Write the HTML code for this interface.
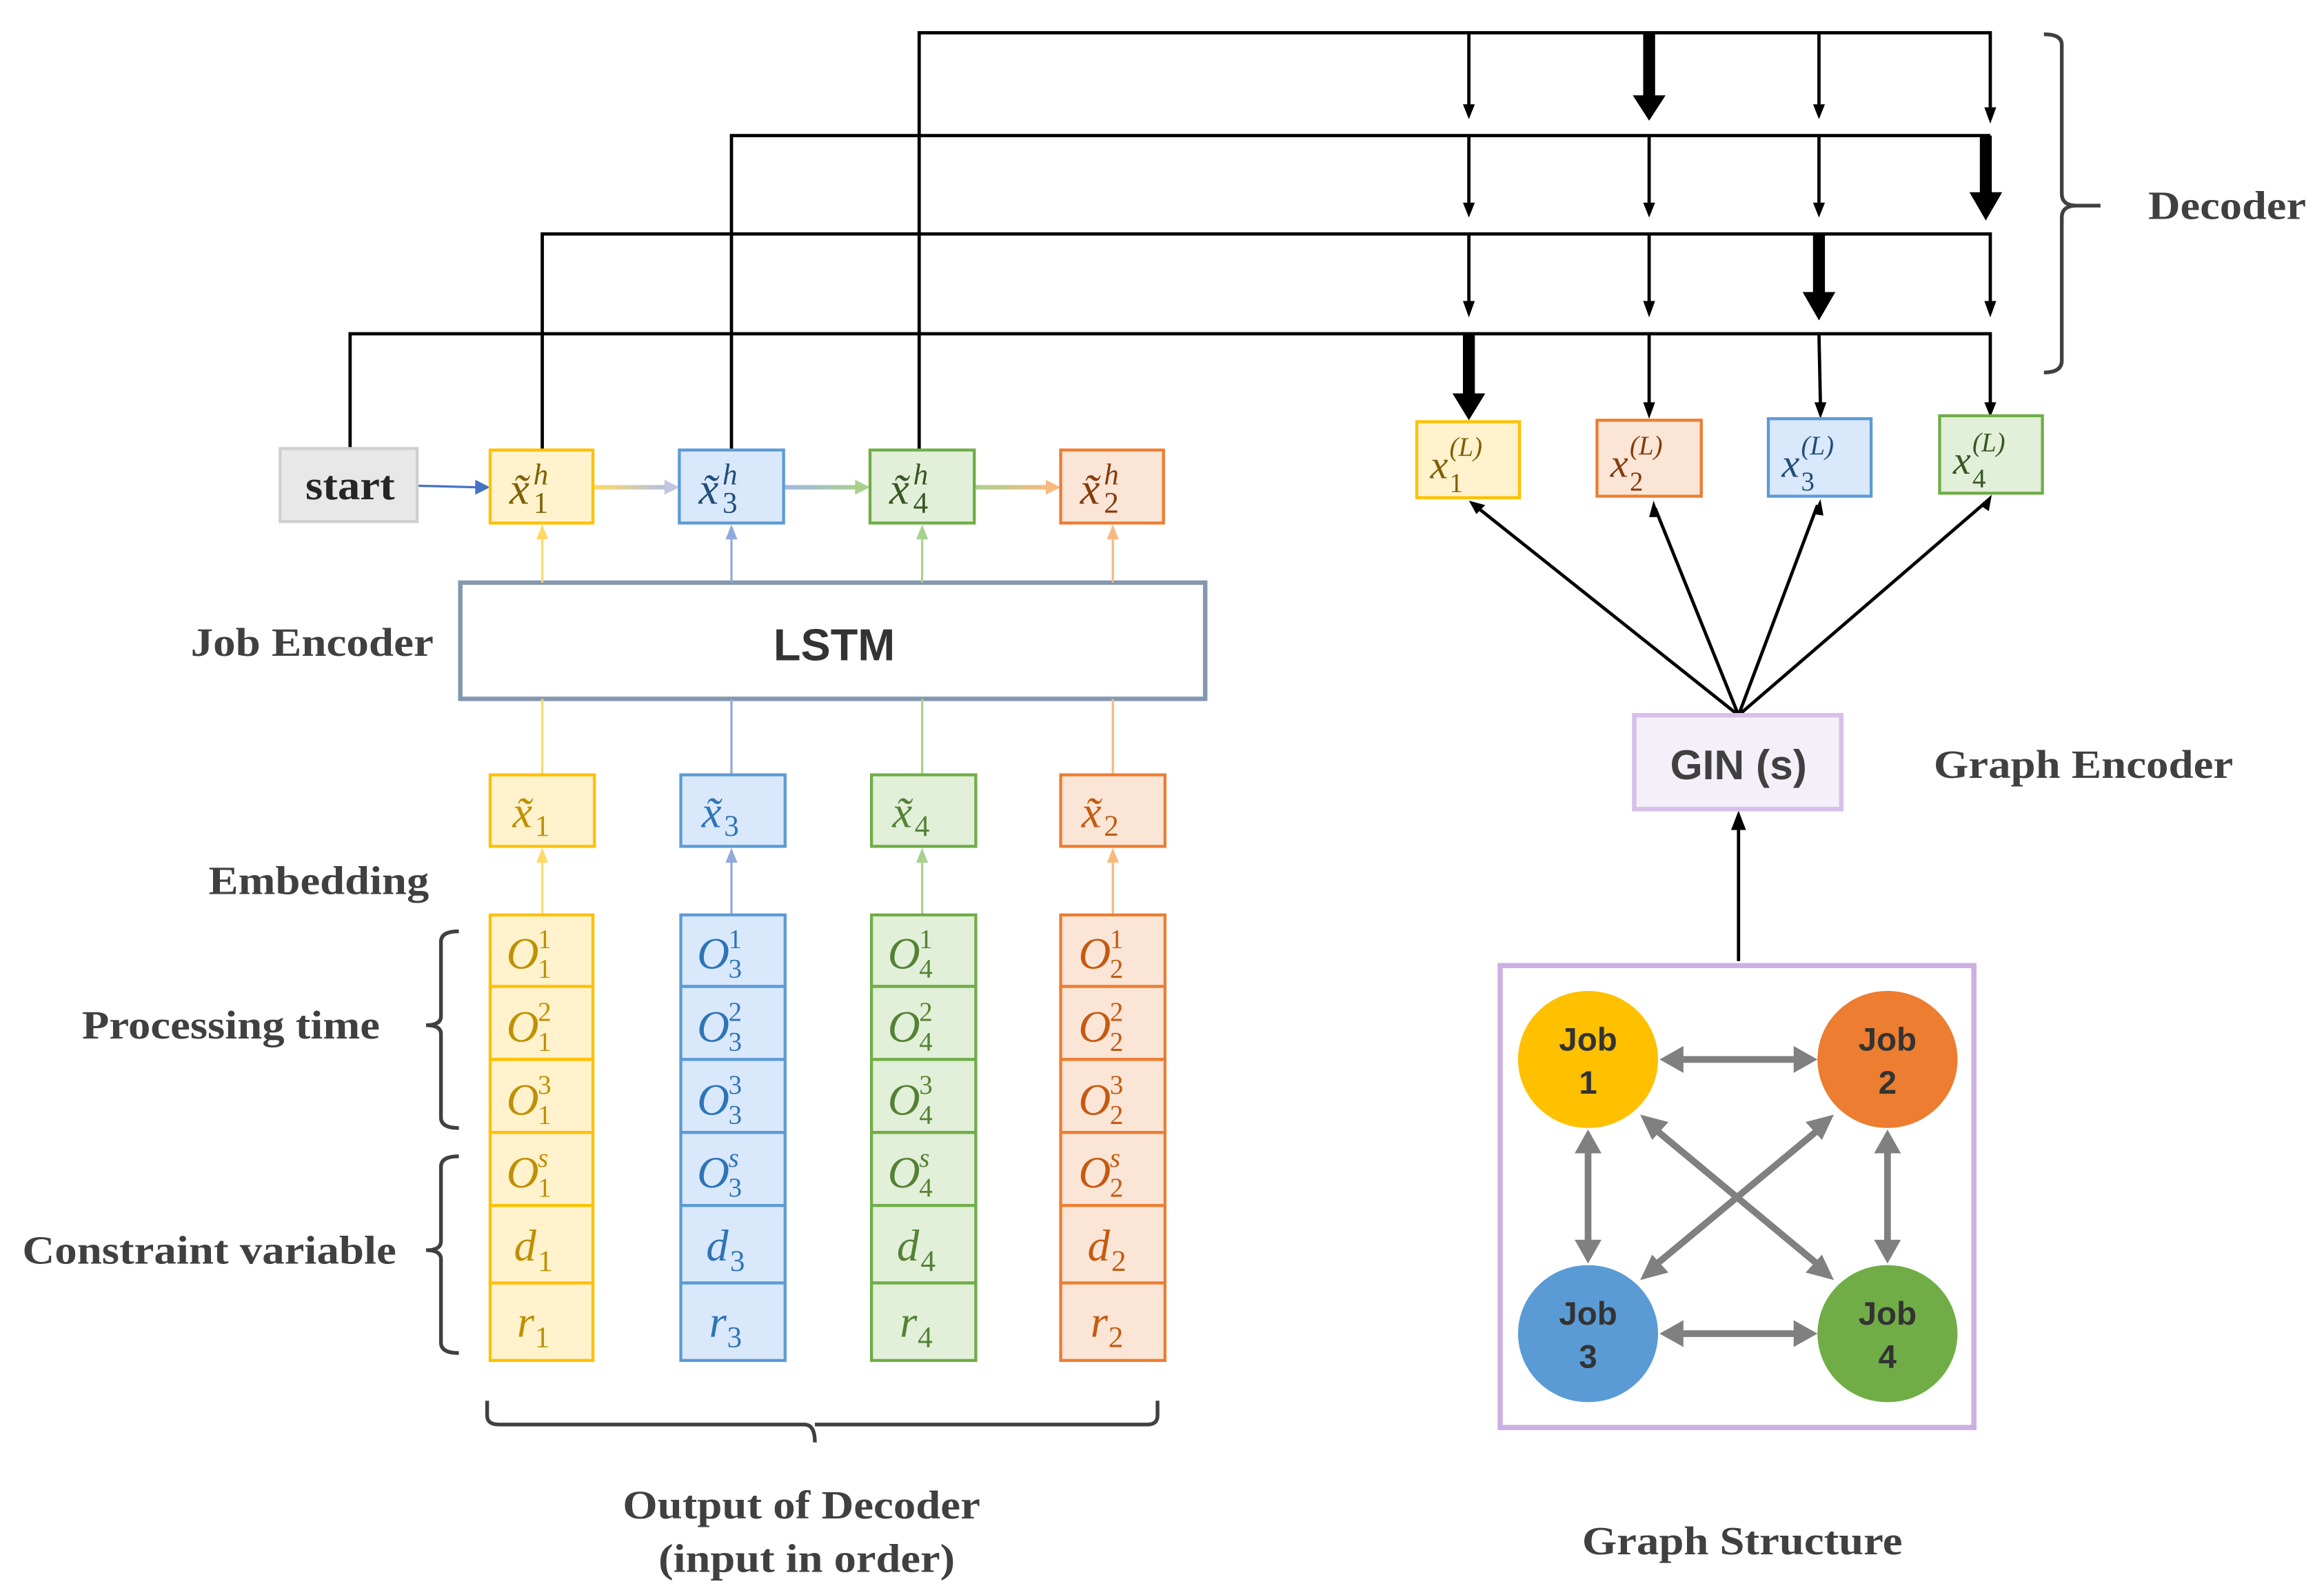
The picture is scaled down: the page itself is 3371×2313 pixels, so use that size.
<!DOCTYPE html>
<html><head><meta charset="utf-8"><style>html,body{margin:0;padding:0;background:#fff}svg{display:block}.n{font-style:normal}</style></head><body>
<svg xmlns="http://www.w3.org/2000/svg" width="3371" height="2313" viewBox="0 0 1560 1070.4">
<defs>
<linearGradient id="g1" x1="0" x2="1"><stop offset="0" stop-color="#ffd966"/><stop offset="1" stop-color="#b4c0e0"/></linearGradient>
<linearGradient id="g2" x1="0" x2="1"><stop offset="0" stop-color="#9fb8e6"/><stop offset="1" stop-color="#a9d18e"/></linearGradient>
<linearGradient id="g3" x1="0" x2="1"><stop offset="0" stop-color="#a9d18e"/><stop offset="1" stop-color="#f8b97f"/></linearGradient>
</defs>
<rect width="1560" height="1070.4" fill="#fff"/>
<g stroke="#000" stroke-width="2.2" fill="none">
<polyline points="617,302 617,22 1336,22 1336,72"/>
<polyline points="491,302 491,91 1336,91"/>
<polyline points="364,302 364,157 1336,157 1336,204"/>
<polyline points="235,301 235,224 1336,224 1336,272"/>
<line x1="986" y1="22" x2="986" y2="72"/><line x1="1221" y1="22" x2="1221" y2="72"/>
<line x1="986" y1="91" x2="986" y2="138"/><line x1="1107" y1="91" x2="1107" y2="138"/><line x1="1221" y1="91" x2="1221" y2="138"/>
<line x1="986" y1="157" x2="986" y2="204"/><line x1="1107" y1="157" x2="1107" y2="204"/>
<line x1="1107" y1="224" x2="1107" y2="272"/><line x1="1221" y1="224" x2="1222" y2="272"/>
</g>
<g fill="#000">
<polygon points="982,70 990,70 986,80"/><polygon points="1217,70 1225,70 1221,80"/><polygon points="1332,72 1340,72 1336,83"/>
<polygon points="982,136 990,136 986,146"/><polygon points="1103,136 1111,136 1107,146"/><polygon points="1217,136 1225,136 1221,146"/>
<polygon points="982,202 990,202 986,213"/><polygon points="1103,202 1111,202 1107,213"/><polygon points="1332,202 1340,202 1336,213"/>
<polygon points="1103,270 1111,270 1107,281"/><polygon points="1218,270 1226,270 1222,281"/><polygon points="1332,270 1340,270 1336,280"/>
<rect x="1103" y="22" width="8" height="44"/><polygon points="1096,64 1118,64 1107,81"/>
<rect x="1329" y="91" width="8" height="40"/><polygon points="1322,129 1344,129 1333,148"/>
<rect x="1217" y="157" width="8" height="40"/><polygon points="1210,196 1232,196 1221,215"/>
<rect x="982" y="224" width="8" height="42"/><polygon points="975,264 997,264 986,282"/>
</g>
<path d="M1372,23 Q1384,23 1384,30 L1384,130 Q1384,138 1394,138 L1410,138 M1394,138 Q1384,138 1384,146 L1384,242 Q1384,250 1372,250" stroke="#404040" stroke-width="2.5" fill="none"/>
<g font-family="Liberation Serif,serif" font-weight="bold" fill="#404040" font-size="27">
<text x="1442" y="147" textLength="106" lengthAdjust="spacingAndGlyphs">Decoder</text>
<text x="128" y="440" textLength="163" lengthAdjust="spacingAndGlyphs">Job Encoder</text>
<text x="140" y="600" textLength="148" lengthAdjust="spacingAndGlyphs">Embedding</text>
<text x="55" y="697" textLength="200" lengthAdjust="spacingAndGlyphs">Processing time</text>
<text x="15" y="848" textLength="251" lengthAdjust="spacingAndGlyphs">Constraint variable</text>
<text x="1298" y="522" textLength="201" lengthAdjust="spacingAndGlyphs">Graph Encoder</text>
<text x="418" y="1019" textLength="240" lengthAdjust="spacingAndGlyphs">Output of Decoder</text>
<text x="442" y="1055" textLength="199" lengthAdjust="spacingAndGlyphs">(input in order)</text>
<text x="1062" y="1043" textLength="215" lengthAdjust="spacingAndGlyphs">Graph Structure</text>
</g>
<g stroke="#404040" stroke-width="2.5" fill="none">
<path d="M308,625 Q296,625 296,632 L296,682 Q296,688 286,688 M296,694 Q296,688 286,688 M296,694 L296,750 Q296,757 308,757"/>
<path d="M308,776 Q296,776 296,783 L296,833 Q296,839 286,839 M296,845 Q296,839 286,839 M296,845 L296,901 Q296,908 308,908"/>
<path d="M327,940 L327,950 Q327,956 335,956 L540,956 Q547,956 547,968 M547,956 Q547,956 555,956 L770,956 Q777,956 777,950 L777,940"/>
</g>
<rect x="188" y="301" width="92" height="49" fill="#e8e8e8" stroke="#cfcfcf" stroke-width="2"/>
<text x="205" y="335" font-family="Liberation Serif,serif" font-weight="bold" font-size="28" fill="#262626" textLength="60" lengthAdjust="spacingAndGlyphs">start</text>
<line x1="281" y1="326" x2="320" y2="327" stroke="#4472c4" stroke-width="1.5"/><polygon points="319,322 329,327 319,332" fill="#4472c4"/>
<rect x="399" y="325.5" width="48" height="3" fill="url(#g1)"/><polygon points="446,322 456,327 446,332" fill="#c0c6e0"/>
<rect x="527" y="325.5" width="48" height="3" fill="url(#g2)"/><polygon points="574,322 584,327 574,332" fill="#a9d18e"/>
<rect x="655" y="325.5" width="48" height="3" fill="url(#g3)"/><polygon points="702,322 712,327 702,332" fill="#f8b97f"/>
<rect x="309" y="391" width="500" height="78" fill="#fff" stroke="#8497b0" stroke-width="3"/>
<text x="560" y="443" text-anchor="middle" font-family="Liberation Sans,sans-serif" font-weight="bold" font-size="30" fill="#333">LSTM</text>
<g font-family="Liberation Serif,serif" font-style="italic">
<g>
<line x1="364" y1="391" x2="364" y2="360" stroke="#ffd966" stroke-width="1.5"/><polygon points="360,362 368,362 364,352" fill="#ffd966"/>
<line x1="364" y1="469" x2="364" y2="520" stroke="#ffd966" stroke-width="1.5"/>
<line x1="364" y1="614" x2="364" y2="577" stroke="#ffd966" stroke-width="1.5"/><polygon points="360,579 368,579 364,569" fill="#ffd966"/>
<rect x="329" y="302" width="69" height="49" fill="#fff2cc" stroke="#ffc000" stroke-width="2"/>
<rect x="329" y="520" width="70" height="48" fill="#fff2cc" stroke="#ffc000" stroke-width="2"/>
<g fill="#fff2cc" stroke="#ffc000" stroke-width="2"><rect x="329" y="614" width="69" height="48"/><rect x="329" y="662" width="69" height="49"/><rect x="329" y="711" width="69" height="49"/><rect x="329" y="760" width="69" height="49"/><rect x="329" y="809" width="69" height="52"/><rect x="329" y="861" width="69" height="52"/></g>
</g>
<g>
<line x1="491" y1="391" x2="491" y2="360" stroke="#8faadc" stroke-width="1.5"/><polygon points="487,362 495,362 491,352" fill="#8faadc"/>
<line x1="491" y1="469" x2="491" y2="520" stroke="#8faadc" stroke-width="1.5"/>
<line x1="491" y1="614" x2="491" y2="577" stroke="#8faadc" stroke-width="1.5"/><polygon points="487,579 495,579 491,569" fill="#8faadc"/>
<rect x="456" y="302" width="70" height="49" fill="#dae8fc" stroke="#5b9bd5" stroke-width="2"/>
<rect x="457" y="520" width="70" height="48" fill="#dae8fc" stroke="#5b9bd5" stroke-width="2"/>
<g fill="#dae8fc" stroke="#5b9bd5" stroke-width="2"><rect x="457" y="614" width="70" height="48"/><rect x="457" y="662" width="70" height="49"/><rect x="457" y="711" width="70" height="49"/><rect x="457" y="760" width="70" height="49"/><rect x="457" y="809" width="70" height="52"/><rect x="457" y="861" width="70" height="52"/></g>
</g>
<g>
<line x1="619" y1="391" x2="619" y2="360" stroke="#a9d18e" stroke-width="1.5"/><polygon points="615,362 623,362 619,352" fill="#a9d18e"/>
<line x1="619" y1="469" x2="619" y2="520" stroke="#a9d18e" stroke-width="1.5"/>
<line x1="619" y1="614" x2="619" y2="577" stroke="#a9d18e" stroke-width="1.5"/><polygon points="615,579 623,579 619,569" fill="#a9d18e"/>
<rect x="584" y="302" width="70" height="49" fill="#e2efd9" stroke="#70ad47" stroke-width="2"/>
<rect x="585" y="520" width="70" height="48" fill="#e2efd9" stroke="#70ad47" stroke-width="2"/>
<g fill="#e2efd9" stroke="#70ad47" stroke-width="2"><rect x="585" y="614" width="70" height="48"/><rect x="585" y="662" width="70" height="49"/><rect x="585" y="711" width="70" height="49"/><rect x="585" y="760" width="70" height="49"/><rect x="585" y="809" width="70" height="52"/><rect x="585" y="861" width="70" height="52"/></g>
</g>
<g>
<line x1="747" y1="391" x2="747" y2="360" stroke="#f8b97f" stroke-width="1.5"/><polygon points="743,362 751,362 747,352" fill="#f8b97f"/>
<line x1="747" y1="469" x2="747" y2="520" stroke="#f8b97f" stroke-width="1.5"/>
<line x1="747" y1="614" x2="747" y2="577" stroke="#f8b97f" stroke-width="1.5"/><polygon points="743,579 751,579 747,569" fill="#f8b97f"/>
<rect x="712" y="302" width="69" height="49" fill="#fbe5d6" stroke="#ed7d31" stroke-width="2"/>
<rect x="712" y="520" width="70" height="48" fill="#fbe5d6" stroke="#ed7d31" stroke-width="2"/>
<g fill="#fbe5d6" stroke="#ed7d31" stroke-width="2"><rect x="712" y="614" width="70" height="48"/><rect x="712" y="662" width="70" height="49"/><rect x="712" y="711" width="70" height="49"/><rect x="712" y="760" width="70" height="49"/><rect x="712" y="809" width="70" height="52"/><rect x="712" y="861" width="70" height="52"/></g>
</g>
<g font-size="30">
<g fill="#7f6000"><text x="342" y="338">x̃</text><text x="358" y="325" font-size="20">h</text><text class="n" x="358" y="344" font-size="20">1</text></g>
<g fill="#1f4e79"><text x="469" y="338">x̃</text><text x="485" y="325" font-size="20">h</text><text class="n" x="485" y="344" font-size="20">3</text></g>
<g fill="#385723"><text x="597" y="338">x̃</text><text x="613" y="325" font-size="20">h</text><text class="n" x="613" y="344" font-size="20">4</text></g>
<g fill="#843c0c"><text x="725" y="338">x̃</text><text x="741" y="325" font-size="20">h</text><text class="n" x="741" y="344" font-size="20">2</text></g>
</g>
<g font-size="30">
<g fill="#bf9000"><text x="344" y="555">x̃</text><text class="n" x="359" y="561" font-size="20">1</text></g>
<g fill="#2e75b6"><text x="471" y="555">x̃</text><text class="n" x="486" y="561" font-size="20">3</text></g>
<g fill="#548235"><text x="599" y="555">x̃</text><text class="n" x="614" y="561" font-size="20">4</text></g>
<g fill="#c55a11"><text x="726" y="555">x̃</text><text class="n" x="741" y="561" font-size="20">2</text></g>
</g>
<g font-size="30" fill="#bf9000">
<text x="340" y="650">O</text><text class="n" x="361" y="636" font-size="18">1</text><text class="n" x="361" y="656" font-size="18">1</text>
<text x="340" y="699">O</text><text class="n" x="361" y="685" font-size="18">2</text><text class="n" x="361" y="705" font-size="18">1</text>
<text x="340" y="748">O</text><text class="n" x="361" y="734" font-size="18">3</text><text class="n" x="361" y="754" font-size="18">1</text>
<text x="340" y="797">O</text><text x="361" y="783" font-size="18">s</text><text class="n" x="361" y="803" font-size="18">1</text>
<text x="345" y="846">d</text><text class="n" x="361" y="853" font-size="20">1</text>
<text x="347" y="897">r</text><text class="n" x="359" y="904" font-size="20">1</text>
</g>
<g font-size="30" fill="#2e75b6">
<text x="468" y="650">O</text><text class="n" x="489" y="636" font-size="18">1</text><text class="n" x="489" y="656" font-size="18">3</text>
<text x="468" y="699">O</text><text class="n" x="489" y="685" font-size="18">2</text><text class="n" x="489" y="705" font-size="18">3</text>
<text x="468" y="748">O</text><text class="n" x="489" y="734" font-size="18">3</text><text class="n" x="489" y="754" font-size="18">3</text>
<text x="468" y="797">O</text><text x="489" y="783" font-size="18">s</text><text class="n" x="489" y="803" font-size="18">3</text>
<text x="474" y="846">d</text><text class="n" x="490" y="853" font-size="20">3</text>
<text x="476" y="897">r</text><text class="n" x="488" y="904" font-size="20">3</text>
</g>
<g font-size="30" fill="#548235">
<text x="596" y="650">O</text><text class="n" x="617" y="636" font-size="18">1</text><text class="n" x="617" y="656" font-size="18">4</text>
<text x="596" y="699">O</text><text class="n" x="617" y="685" font-size="18">2</text><text class="n" x="617" y="705" font-size="18">4</text>
<text x="596" y="748">O</text><text class="n" x="617" y="734" font-size="18">3</text><text class="n" x="617" y="754" font-size="18">4</text>
<text x="596" y="797">O</text><text x="617" y="783" font-size="18">s</text><text class="n" x="617" y="803" font-size="18">4</text>
<text x="602" y="846">d</text><text class="n" x="618" y="853" font-size="20">4</text>
<text x="604" y="897">r</text><text class="n" x="616" y="904" font-size="20">4</text>
</g>
<g font-size="30" fill="#c55a11">
<text x="724" y="650">O</text><text class="n" x="745" y="636" font-size="18">1</text><text class="n" x="745" y="656" font-size="18">2</text>
<text x="724" y="699">O</text><text class="n" x="745" y="685" font-size="18">2</text><text class="n" x="745" y="705" font-size="18">2</text>
<text x="724" y="748">O</text><text class="n" x="745" y="734" font-size="18">3</text><text class="n" x="745" y="754" font-size="18">2</text>
<text x="724" y="797">O</text><text x="745" y="783" font-size="18">s</text><text class="n" x="745" y="803" font-size="18">2</text>
<text x="730" y="846">d</text><text class="n" x="746" y="853" font-size="20">2</text>
<text x="732" y="897">r</text><text class="n" x="744" y="904" font-size="20">2</text>
</g>
<rect x="951" y="283" width="69" height="51" fill="#fff2cc" stroke="#ffc000" stroke-width="2"/>
<rect x="1072" y="282" width="70" height="51" fill="#fbe5d6" stroke="#ed7d31" stroke-width="2"/>
<rect x="1187" y="281" width="69" height="52" fill="#dae8fc" stroke="#5b9bd5" stroke-width="2"/>
<rect x="1302" y="279" width="69" height="52" fill="#e2efd9" stroke="#70ad47" stroke-width="2"/>
<g font-size="27">
<g fill="#7f6000"><text x="960" y="321">x</text><text x="973" y="306" font-size="18">(L)</text><text class="n" x="973" y="330" font-size="18">1</text></g>
<g fill="#843c0c"><text x="1081" y="320">x</text><text x="1094" y="305" font-size="18">(L)</text><text class="n" x="1094" y="329" font-size="18">2</text></g>
<g fill="#1f4e79"><text x="1196" y="320">x</text><text x="1209" y="305" font-size="18">(L)</text><text class="n" x="1209" y="329" font-size="18">3</text></g>
<g fill="#385723"><text x="1311" y="318">x</text><text x="1324" y="303" font-size="18">(L)</text><text class="n" x="1324" y="327" font-size="18">4</text></g>
</g>
</g>
<g stroke="#000" stroke-width="2.2">
<line x1="1167" y1="480" x2="991" y2="340"/><line x1="1167" y1="480" x2="1111" y2="341"/><line x1="1167" y1="480" x2="1220" y2="339"/><line x1="1167" y1="480" x2="1333" y2="337"/>
<line x1="1167" y1="645" x2="1167" y2="555"/>
</g>
<g fill="#000">
<polygon points="986,336 997,339 991,345"/><polygon points="1110,336 1114,347 1107,347"/><polygon points="1222,335 1224,346 1217,345"/><polygon points="1337,332 1335,343 1329,339"/>
<polygon points="1162,557 1172,557 1167,544"/>
</g>
<rect x="1097" y="480" width="139" height="63" fill="#f4eff8" stroke="#d7bfea" stroke-width="3"/>
<text x="1167" y="523" text-anchor="middle" font-family="Liberation Sans,sans-serif" font-weight="bold" font-size="28" fill="#404040">GIN (s)</text>
<rect x="1007" y="648" width="318" height="310" fill="#fff" stroke="#cdb0e3" stroke-width="3.5"/>
<g stroke="#808080" stroke-width="4.5" fill="none">
<line x1="1126" y1="711" x2="1208" y2="711"/><line x1="1126" y1="895" x2="1208" y2="895"/>
<line x1="1066" y1="770" x2="1066" y2="836"/><line x1="1267" y1="770" x2="1267" y2="836"/>
<line x1="1110" y1="757" x2="1222" y2="850"/><line x1="1222" y1="757" x2="1110" y2="850"/>
</g>
<g fill="#808080">
<polygon points="1114,711 1130,702 1130,720"/><polygon points="1220,711 1204,702 1204,720"/>
<polygon points="1114,895 1130,886 1130,904"/><polygon points="1220,895 1204,886 1204,904"/>
<polygon points="1066,758 1057,774 1075,774"/><polygon points="1066,848 1057,832 1075,832"/>
<polygon points="1267,758 1258,774 1276,774"/><polygon points="1267,848 1258,832 1276,832"/>
<polygon points="1101,748 1120,753 1109,765"/><polygon points="1231,859 1212,854 1223,842"/>
<polygon points="1231,748 1212,753 1223,765"/><polygon points="1101,859 1120,854 1109,842"/>
</g>
<ellipse cx="1066" cy="711" rx="47" ry="46" fill="#ffc000"/>
<ellipse cx="1267" cy="711" rx="47" ry="46" fill="#ed7d31"/>
<ellipse cx="1066" cy="895" rx="47" ry="46" fill="#5b9bd5"/>
<ellipse cx="1267" cy="895" rx="47" ry="46" fill="#70ad47"/>
<g font-family="Liberation Sans,sans-serif" font-weight="bold" font-size="22" fill="#333" text-anchor="middle">
<text x="1066" y="705">Job</text><text x="1066" y="734">1</text>
<text x="1267" y="705">Job</text><text x="1267" y="734">2</text>
<text x="1066" y="889">Job</text><text x="1066" y="918">3</text>
<text x="1267" y="889">Job</text><text x="1267" y="918">4</text>
</g>
</svg>
</body></html>
